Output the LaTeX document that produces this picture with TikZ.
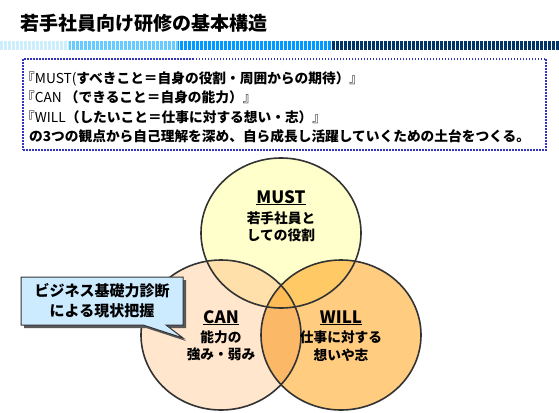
\documentclass[tikz,border=0pt]{standalone}
\usepackage{fontspec}
\setmainfont{Noto Sans CJK JP}
\usetikzlibrary{shapes.callouts,shadows}
\definecolor{mustfill}{HTML}{FFFFCC}
\definecolor{canfill}{HTML}{FFE6CC}
\definecolor{willfill}{HTML}{FFCC80}
\definecolor{mcfill}{HTML}{FFE0AA}
\definecolor{mwfill}{HTML}{FFC966}
\definecolor{cwfill}{HTML}{FBB866}
\definecolor{allfill}{HTML}{FFBB55}
\definecolor{ringline}{HTML}{333333}
\definecolor{boxblue}{HTML}{3333BB}
\definecolor{tipblue}{HTML}{CCEBFF}
\definecolor{barA}{HTML}{CCEEFF}
\definecolor{barB}{HTML}{66CCFF}
\definecolor{barC}{HTML}{0099FF}
\definecolor{barD}{HTML}{003366}
\begin{document}
\begin{tikzpicture}[x=1pt,y=-1pt,
    ring/.style={draw=ringline, line width=1.6pt},
    head/.style={anchor=base, inner sep=0pt, font=\fontsize{17}{17}\selectfont\bfseries},
    sub/.style={align=center, inner sep=0pt, font=\fontsize{13.7}{17.5}\selectfont\bfseries},
    noteline/.style={anchor=base west, inner sep=0pt, font=\fontsize{13.7}{16}\selectfont\bfseries}
  ]
  \useasboundingbox (0,0) rectangle (559,412);

  \node (title) at (20,23) [anchor=west, inner sep=0pt, font=\fontsize{19}{19}\selectfont\bfseries] {若手社員向け研修の基本構造};

  % stripe bar
  \fill[barA] (0,41) rectangle (69,50);
  \fill[barB] (69,41) rectangle (178,50);
  \fill[barC] (178,41) rectangle (331,50);
  \fill[barD] (331,41) rectangle (559,50);
  \foreach \x in {0,4,...,556}
    \draw[white, line width=1pt] ({\x+3.5},41) -- ({\x+3.5},50);

  \node (frame) at (284.5,104.5) [draw=boxblue, line width=1.5pt, dash pattern=on 1.5pt off 1.5pt, minimum width=523pt, minimum height=91pt] {};
  \node (lmust) at (21,83) [noteline] {{\mdseries 『MUST(}すべきこと＝自身の役割・周囲からの期待）{\mdseries 』}};
  \node (lcan) at (21,102.5) [noteline] {{\mdseries 『CAN }（できること＝自身の能力）{\mdseries 』}};
  \node (lwill) at (21,122) [noteline] {{\mdseries 『WILL}（したいこと＝仕事に対する想い・志）{\mdseries 』}};
  \node (lbase) at (29,141) [noteline] {の3つの観点から自己理解を深め、自ら成長し活躍していくための土台をつくる。};

  \def\mustring{(281,233) ellipse [x radius=80pt, y radius=75pt]}
  \def\canring{(221,335) ellipse [x radius=80pt, y radius=75pt]}
  \def\willring{(341,335) ellipse [x radius=80pt, y radius=75pt]}

  \fill[canfill] \canring;
  \fill[willfill] \willring;
  \fill[mustfill] \mustring;
  \begin{scope}
    \clip \mustring;
    \fill[mcfill] \canring;
    \fill[mwfill] \willring;
  \end{scope}
  \begin{scope}
    \clip \canring;
    \fill[cwfill] \willring;
    \clip \willring;
    \fill[allfill] \mustring;
  \end{scope}
  \draw[ring] \mustring;
  \draw[ring] \canring;
  \draw[ring] \willring;

  \node (must) at (281,203) [head] {\underline{MUST}};
  \node (mustsub) at (281,227) [sub] {若手社員と\\しての役割};
  \node (can) at (221,323) [head] {\underline{CAN}};
  \node (cansub) at (221,346) [sub] {能力の\\強み・弱み};
  \node (will) at (341,323) [head] {\underline{WILL}};
  \node (willsub) at (341,346) [sub] {仕事に対する\\想いや志};

  \node (callout) at (102,301) [rectangle callout, callout absolute pointer={(183,338)}, callout pointer width=23pt,
    draw=ringline, line width=1pt, fill=tipblue, minimum width=162pt, minimum height=48pt, inner sep=0pt,
    drop shadow={shadow xshift=3pt, shadow yshift=-3pt, fill=black!65, opacity=1},
    align=center, font=\fontsize{15}{20}\selectfont\bfseries] {ビジネス基礎力診断\\による現状把握};
\end{tikzpicture}
\end{document}
